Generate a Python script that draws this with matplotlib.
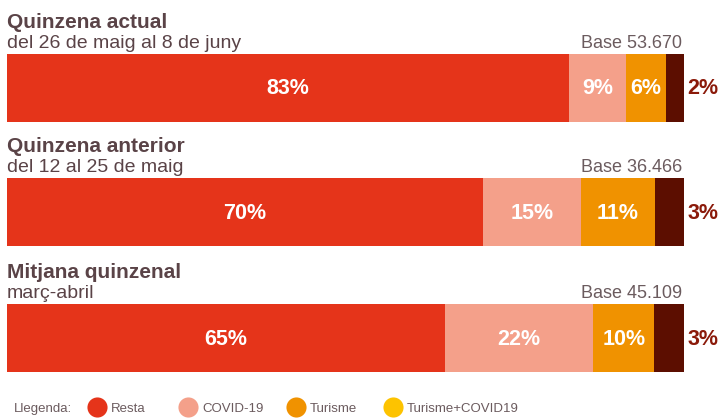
import numpy as np
import matplotlib
matplotlib.use('Agg')
import matplotlib.pyplot as plt

plt.rcParams['font.family'] = ['Liberation Sans', 'DejaVu Sans']

titles = ['Quinzena actual', 'Quinzena anterior', 'Mitjana quinzenal']
subtitles = ['del 26 de maig al 8 de juny', 'del 12 al 25 de maig', 'març-abril']
bases = ['Base 53.670', 'Base 36.466', 'Base 45.109']

resta = [83.0, 70.3, 64.7]
covid = [8.5, 14.5, 21.9]
turisme = [5.8, 10.9, 9.0]
tur_covid = [2.7, 4.3, 4.4]

labels_resta = ['83%', '70%', '65%']
labels_covid = ['9%', '15%', '22%']
labels_turisme = ['6%', '11%', '10%']
labels_tur_covid = ['2%', '3%', '3%']

legend_names = ['Resta', 'COVID-19', 'Turisme', 'Turisme+COVID19']
legend_colors = ['#e5341a', '#f4a08a', '#f09200', '#fdc300']

seg_colors = ['#e5341a', '#f4a08a', '#f09200', '#5c0e00']
title_col = '#5a4347'
gray_col = '#6b5b5e'
dark_lbl = '#8b1a0a'

W, H = 719, 419
fig = plt.figure(figsize=(W / 100, H / 100), dpi=100)

# overlay axes in pixel units for the text and legend
ov = fig.add_axes([0, 0, 1, 1])
ov.set_xlim(0, W)
ov.set_ylim(H, 0)
ov.axis('off')

# bar axes: x in percent
ax = fig.add_axes([7 / W, 0, 677 / W, 1])
ax.set_xlim(0, 100)
ax.set_ylim(H, 0)
ax.axis('off')

centers = [88, 212, 338]
bar_h = 68

series = [resta, covid, turisme, tur_covid]
lbls = [labels_resta, labels_covid, labels_turisme, labels_tur_covid]
left = np.zeros(3)
for k, vals in enumerate(series):
    vals = np.array(vals)
    ax.barh(centers, vals, left=left, height=bar_h, color=seg_colors[k], linewidth=0)
    for i in range(3):
        if k < 3:
            ax.text(left[i] + vals[i] / 2, centers[i] + 1, lbls[k][i], color='white',
                    fontsize=15.5, fontweight='bold', ha='center', va='center')
        else:
            ax.text(left[i] + vals[i] + 0.5, centers[i] + 1, lbls[k][i], color=dark_lbl,
                    fontsize=15.5, fontweight='bold', ha='left', va='center')
    left = left + vals

# headings
for i in range(3):
    top = centers[i] - bar_h / 2
    ov.text(7, top - 26, titles[i], color=title_col, fontsize=15, fontweight='bold',
            ha='left', va='baseline')
    ov.text(7, top - 6, subtitles[i], color=title_col, fontsize=14,
            ha='left', va='baseline')
    ov.text(682, top - 6, bases[i], color=gray_col, fontsize=13,
            ha='right', va='baseline')

# legend
ov.text(14, 412, 'Llegenda:', color=gray_col, fontsize=9.5, ha='left', va='baseline')
lx = [97, 188, 296, 393]
for x, name, c in zip(lx, legend_names, legend_colors):
    ov.scatter([x], [407], s=210, color=c, linewidths=0)
    ov.text(x + 14, 412, name, color=gray_col, fontsize=9.5, ha='left', va='baseline')

fig.savefig('out.png', dpi=100)
